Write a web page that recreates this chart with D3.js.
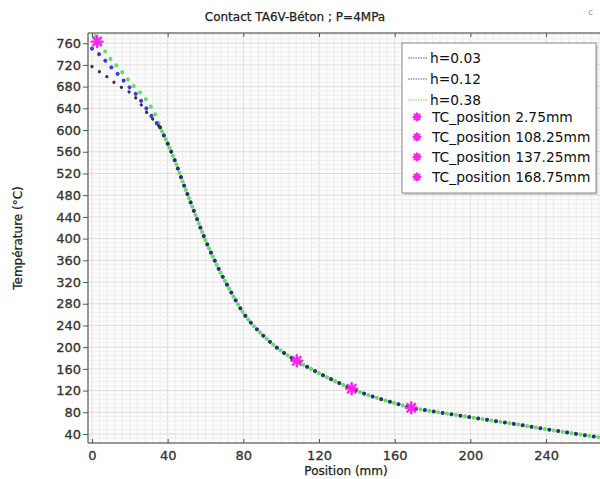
<!DOCTYPE html>
<html><head><meta charset="utf-8">
<script src="https://cdn.jsdelivr.net/npm/d3@7"></script>
<style>body{margin:0;background:#fff;} text{font-family:"DejaVu Sans",Verdana,sans-serif;}</style>
</head><body>
<svg id="c" width="600" height="479"></svg>
<script>
// ---- data ----
const xCommon = [36,40,44,48,52,56,60,64,68,72,76,80,84,88,92,96,100,104,108,112,116,120,124,130,137,145,152,160,168,176,185,197,210,225,238,250,260,270];
const tCommon = [605,575,542,504,468,432,397,366,337,311,286,263,245,230,216.5,204,193,183.5,175,167,159.5,152,145,135,124,113,105,97,89,84,79,72.5,65.5,57.5,50,43.5,38,33];
const xStart003 = [0,5,10,13,19,24,29,33,36];
const tStart003 = [717,705,693,684,672,656,632,617,605];
const xStart012 = [0,4,9,14,19,24,28.5,33,36];
const tStart012 = [750,739,720,702,682,663,641,618,605];
const xStart038 = [0,2,8,15,20.5,25.5,30.5,34,36];
const tStart038 = [778,773,739,711,687,669,647,624,605];
const seriesNames = ["h=0.03","h=0.12","h=0.38"];
const tcNames = ["TC_position 2.75mm","TC_position 108.25mm","TC_position 137.25mm","TC_position 168.75mm"];
const tcX = [2.75,108.25,137.25,168.75];
const tcT = [763,175,123.5,88.5];
const xTicks = [0,40,80,120,160,200,240];
const yTicks = [40,80,120,160,200,240,280,320,360,400,440,480,520,560,600,640,680,720,760];

const svg = d3.select("#c");
const L=88, T=33, R=603, B=443;
const x = d3.scaleLinear().domain([-2.1, 270.1]).range([L,R]);
const y = d3.scaleLinear().domain([23.4, 778.8]).range([B,T]);

svg.append("defs").append("clipPath").attr("id","clip").append("rect")
  .attr("x",L).attr("y",T).attr("width",R-L).attr("height",B-T);

// grid
const g = svg.append("g");
g.append("rect").attr("x",L).attr("y",T).attr("width",R-L).attr("height",B-T).attr("fill","#fcfcfc");
g.selectAll("line.vx").data(d3.range(0,272,4)).join("line")
  .attr("x1",d=>x(d)).attr("x2",d=>x(d)).attr("y1",T).attr("y2",B)
  .attr("stroke",d=>d%40===0?"#dddddd":"#ececec").attr("stroke-width",1);
g.selectAll("line.hy").data(d3.range(24,780,8)).join("line")
  .attr("y1",d=>y(d)).attr("y2",d=>y(d)).attr("x1",L).attr("x2",R)
  .attr("stroke",d=>d%40===0?"#dddddd":"#eeeeee").attr("stroke-width",1);

// title
svg.append("text").attr("x",295).attr("y",21).attr("text-anchor","middle")
  .attr("font-size",12).attr("fill","#222").attr("stroke","#222").attr("stroke-width",0.25)
  .text("Contact TA6V-Béton ; P=4MPa");
svg.append("text").attr("x",588).attr("y",15).attr("font-size",9).attr("fill","#6aa6d8").text("c");

// curves
const line = d3.line().x(d=>x(d[0])).y(d=>y(d[1])).curve(d3.curveMonotoneX);
const zip = (xs,ts)=>xs.map((v,i)=>[v,ts[i]]);
const cg = svg.append("g").attr("clip-path","url(#clip)");
const styles = [
  {xs:xStart038,ts:tStart038,c:"#5fe35f",w:4.0,off:4.5},
  {xs:xStart012,ts:tStart012,c:"#3b3be0",w:4.0,off:0},
  {xs:xStart003,ts:tStart003,c:"#33334a",w:3.2,off:0}
];
styles.forEach(s=>{
  [zip(s.xs,s.ts), zip(xCommon,tCommon)].forEach(p=>{
    cg.append("path").datum(p).attr("d",line).attr("fill","none")
      .attr("stroke",s.c).attr("stroke-width",s.w).attr("stroke-linecap","round")
      .attr("stroke-dasharray","0.1 8.9").attr("stroke-dashoffset",s.off);
  });
});

// star marker
function star(sel,cx,cy,r,w){
  for(let k=0;k<4;k++){
    const a=k*Math.PI/4;
    sel.append("line").attr("x1",cx-r*Math.cos(a)).attr("y1",cy-r*Math.sin(a))
      .attr("x2",cx+r*Math.cos(a)).attr("y2",cy+r*Math.sin(a))
      .attr("stroke","#ff22ee").attr("stroke-width",w).attr("stroke-linecap","round");
  }
}
const mg = svg.append("g");
tcX.forEach((v,i)=>star(mg,x(v),y(tcT[i]),5.5,2.4));

// axes borders
svg.append("line").attr("x1",L).attr("x2",R).attr("y1",T).attr("y2",T).attr("stroke","#777").attr("stroke-width",1.3);
svg.append("line").attr("x1",L).attr("x2",R).attr("y1",B).attr("y2",B).attr("stroke","#777").attr("stroke-width",1.5);
svg.append("line").attr("x1",L).attr("x2",L).attr("y1",T).attr("y2",B).attr("stroke","#777").attr("stroke-width",1.5);

const tickFont = sel=>sel.attr("font-size",13).attr("fill","#333").attr("stroke","#333").attr("stroke-width",0.3)
  .style("font-family","DejaVu Sans, sans-serif");
// x axis
const xa = svg.append("g").attr("transform",`translate(0,${B})`)
  .call(d3.axisBottom(x).tickValues(xTicks).tickSizeInner(-4).tickSizeOuter(0).tickPadding(7.5));
xa.select(".domain").remove();
xa.selectAll("line").attr("stroke","#555");
tickFont(xa.selectAll("text"));
// top ticks
const xt = svg.append("g").attr("transform",`translate(0,${T})`)
  .call(d3.axisTop(x).tickValues(xTicks).tickSizeInner(-4).tickSizeOuter(0).tickFormat(""));
xt.select(".domain").remove(); xt.selectAll("line").attr("stroke","#555");

// y axis
const ya = svg.append("g").attr("transform",`translate(${L},0)`)
  .call(d3.axisLeft(y).tickValues(yTicks).tickSizeInner(5).tickSizeOuter(0).tickPadding(2));
ya.select(".domain").remove();
ya.selectAll("line").attr("stroke","#555");
tickFont(ya.selectAll("text"));

// axis labels
svg.append("text").attr("x",346).attr("y",475).attr("text-anchor","middle")
  .attr("font-size",12).attr("fill","#222").attr("stroke","#222").attr("stroke-width",0.25).text("Position (mm)");
svg.append("text").attr("transform","translate(22,238) rotate(-90)").attr("text-anchor","middle")
  .attr("font-size",12).attr("fill","#222").attr("stroke","#222").attr("stroke-width",0.25).text("Température (°C)");

// legend
const lg = svg.append("g");
lg.append("rect").attr("x",404).attr("y",45).attr("width",194).attr("height",150).attr("fill","#999").attr("opacity",0.35);
lg.append("rect").attr("x",402).attr("y",43).attr("width",194).attr("height",150)
  .attr("fill","#fff").attr("stroke","#888").attr("stroke-width",1);
const lc = ["#666","#5555dd","#66dd66"];
seriesNames.forEach((n,i)=>{
  const yy = 58+i*21;
  lg.append("line").attr("x1",408).attr("x2",428).attr("y1",yy).attr("y2",yy)
    .attr("stroke",lc[i]).attr("stroke-width",1).attr("stroke-dasharray","1.5 1");
  lg.append("text").attr("x",430).attr("y",yy+5).attr("font-size",13.8).attr("fill","#111").text(n);
});
tcNames.forEach((n,i)=>{
  const yy = 117+i*20;
  star(lg,417,yy,3.6,2.2);
  lg.append("text").attr("x",432).attr("y",yy+5).attr("font-size",13.8).attr("fill","#111").text(n);
});
</script>
</body></html>
